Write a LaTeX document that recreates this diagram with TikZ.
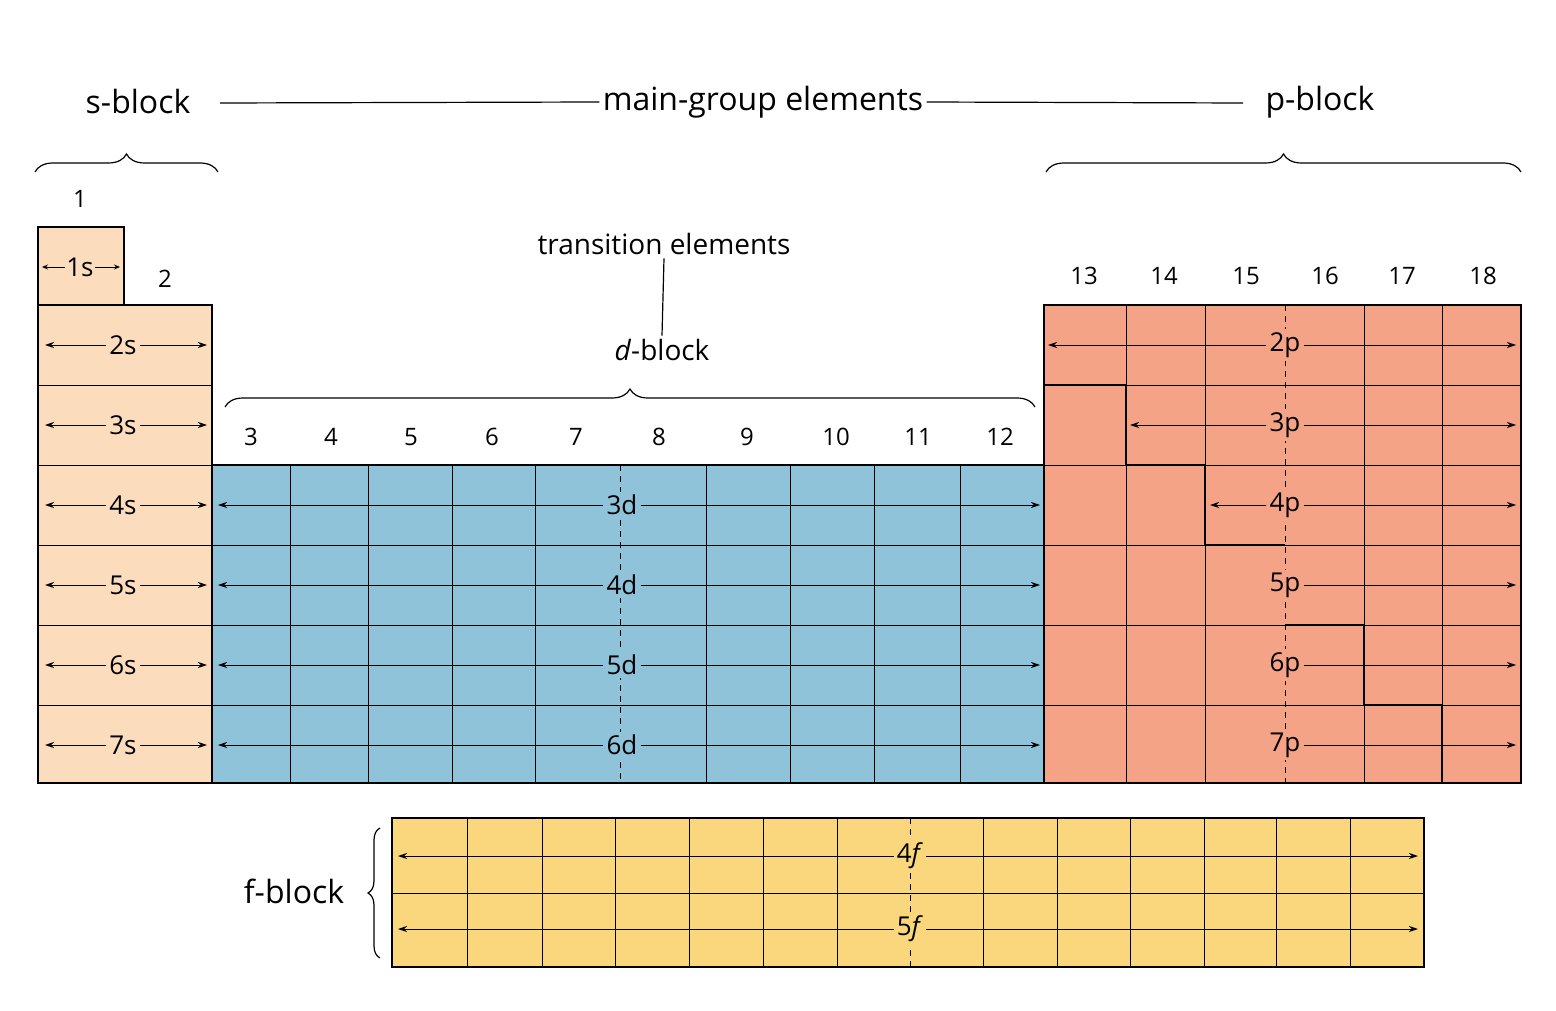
\documentclass[tikz,border=0pt]{standalone}
\usepackage{fontspec}
\setmainfont{Open Sans}
\usetikzlibrary{decorations.pathreplacing,arrows.meta}
\definecolor{sc}{HTML}{FBDDBE}\definecolor{dc}{HTML}{8EC3DA}
\definecolor{pc}{HTML}{F5A386}\definecolor{fc}{HTML}{FAD77C}
\begin{document}
\begin{tikzpicture}[x=1pt,y=1pt,
 cell/.style={draw=black,line width=1.2pt},
 grid/.style={line width=0.8pt},
 dsh/.style={line width=0.8pt,dash pattern=on 6pt off 5pt},
 arr/.style={-{Stealth[length=9pt,width=6pt]},line width=0.9pt},
 lab/.style={font=\fontsize{26}{30}\selectfont,inner sep=3pt},
 num/.style={font=\fontsize{24}{28}\selectfont},
 big/.style={font=\fontsize{32}{38}\selectfont},
 br/.style={decorate,decoration={brace,amplitude=18pt},line width=1.2pt}]
\useasboundingbox (0,0) rectangle (1556,-1011);
% s-block
\fill[sc] (38,-227) rectangle (124,-305);
\fill[sc] (38,-305) rectangle (212,-783);
\draw[cell] (38,-305) -- (38,-227) -- (124,-227) -- (124,-305);
\draw[cell] (38,-305) rectangle (212,-783);
\foreach \y in {385,465,545,625,705} \draw[grid] (38,-\y) -- (212,-\y);
\draw[grid] (38,-305) -- (212,-305);
\node[lab,inner sep=1pt] (l1s) at (80,-267) {1s};
\coordinate (a1l) at (42,-267); \coordinate (a1r) at (120,-267);
\draw[arr,-{Stealth[length=6pt,width=5pt]}] (l1s.west) -- (a1l);
\draw[arr,-{Stealth[length=6pt,width=5pt]}] (l1s.east) -- (a1r);
\foreach \n/\y in {2/345,3/425,4/505,5/585,6/665,7/745}{
 \node[lab] (l\n s) at (123,-\y) {\n s};
 \coordinate (sl\n) at (45,-\y); \coordinate (sr\n) at (207,-\y);
 \draw[arr] (l\n s.west) -- (sl\n); \draw[arr] (l\n s.east) -- (sr\n);}
% d-block
\fill[dc] (212,-465) rectangle (1044,-783);
\foreach \x in {290,368,452,535,706,790,874,960} \draw[grid] (\x,-465) -- (\x,-783);
\foreach \y in {545,625,705} \draw[grid] (212,-\y) -- (1044,-\y);
\draw[dsh] (620,-465) -- (620,-783);
\draw[cell] (212,-465) rectangle (1044,-783);
\foreach \n/\y in {3/505,4/585,5/665,6/745}{
 \node[lab,fill=dc] (l\n d) at (622,-\y) {\n d};
 \coordinate (dl\n) at (218,-\y); \coordinate (dr\n) at (1040,-\y);
 \draw[arr] (l\n d.west) -- (dl\n); \draw[arr] (l\n d.east) -- (dr\n);}
% p-block
\fill[pc] (1044,-305) rectangle (1521,-783);
\foreach \x in {1126,1205,1364,1442} \draw[grid] (\x,-305) -- (\x,-783);
\foreach \y in {385,465,545,625,705} \draw[grid] (1044,-\y) -- (1521,-\y);
\draw[dsh] (1285,-305) -- (1285,-783);
\draw[cell] (1044,-305) rectangle (1521,-783);
\draw[line width=2pt] (1044,-385) -| (1126,-465) -| (1205,-545) -- (1285,-545);
\draw[line width=2pt] (1285,-625) -| (1364,-705) -| (1442,-783);
\foreach \n/\y/\xl in {2/345/1048,3/425/1130,4/505/1210}{
 \node[lab,fill=pc] (l\n p) at (1285,-\y) {\n p};
 \coordinate (pl\n) at (\xl,-\y); \coordinate (pr\n) at (1516,-\y);
 \draw[arr] (l\n p.west) -- (pl\n); \draw[arr] (l\n p.east) -- (pr\n);}
\foreach \n/\y in {5/585,6/665,7/745}{
 \node[lab,fill=pc] (l\n p) at (1285,-\y) {\n p};
 \coordinate (pr\n) at (1516,-\y);
 \draw[arr] (l\n p.east) -- (pr\n);}
% f-block
\fill[fc] (392,-818) rectangle (1424,-967);
\foreach \x in {467,542,615,689,763,837,983,1057,1130,1204,1276,1350} \draw[grid] (\x,-818) -- (\x,-967);
\draw[grid] (392,-893) -- (1424,-893);
\draw[dsh] (910,-818) -- (910,-967);
\draw[cell] (392,-818) rectangle (1424,-967);
\foreach \n/\y in {4/856,5/929}{
 \node[lab,fill=fc] (l\n f) at (910,-\y) {\n\textit{f}};
 \coordinate (fl\n) at (398,-\y); \coordinate (fr\n) at (1418,-\y);
 \draw[arr] (l\n f.west) -- (fl\n); \draw[arr] (l\n f.east) -- (fr\n);}
% group numbers
\node[num] (g1) at (80,-199) {1};
\node[num] (g2) at (165,-279) {2};
\foreach \n/\x in {3/251,4/331,5/411,6/492,7/576,8/659,9/747,10/836,11/918,12/1000}
 \node[num] (g\n) at (\x,-437) {\n};
\foreach \n/\x in {13/1084,14/1164,15/1246,16/1325,17/1402,18/1483}
 \node[num] (g\n) at (\x,-276) {\n};
% headings
\node[big] (sb) at (138,-102) {s-block};
\node[big] (mg) at (763,-102) {main-group elements};
\node[big] (pb) at (1320,-102) {p-block};
\draw[line width=1.2pt] (220,-103) -- (mg.west);
\draw[line width=1.2pt] (mg.east) -- (1243,-103);
\draw[br] (35,-172) -- (218,-172);
\draw[br] (1046,-172) -- (1521,-172);
\node[num,font=\fontsize{28}{32}\selectfont] (te) at (664,-244) {transition elements};
\node[num,font=\fontsize{28}{32}\selectfont] (db) at (662,-350) {\textit{d}-block};
\draw[line width=1.2pt] (te.south) -- (db.north);
\draw[br] (225,-407) -- (1035,-407);
\node[big] (fb) at (294,-891) {f-block};
\draw[br,decoration={brace,amplitude=12pt}] (380,-958) -- (380,-828);
\end{tikzpicture}
\end{document}
